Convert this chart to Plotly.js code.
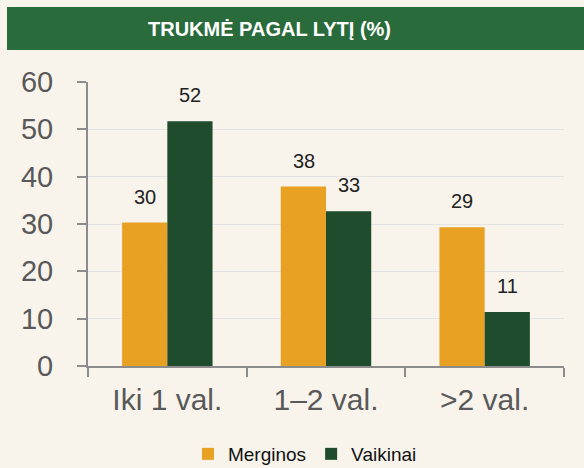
<!DOCTYPE html>
<html><head><meta charset="utf-8">
<script src="https://cdn.plot.ly/plotly-3.0.1.min.js"></script>
<style>html,body{margin:0;padding:0;background:#F8F4EC;}#chart{width:584px;height:468px;}</style>
</head><body><div id="chart"></div>
<script>
const categories = ["Iki 1 val.", "1–2 val.", ">2 val."];
const seriesNames = ["Merginos", "Vaikinai"];
const merginos = [30.3, 37.9, 29.3];
const vaikinai = [51.7, 32.7, 11.4];
const yTicks = [0, 10, 20, 30, 40, 50, 60];
const titleText = "TRUKMĖ PAGAL LYTĮ (%)";

const colors = ["#E8A122", "#1E4C2C"];
const font = "Liberation Sans, Arial, sans-serif";

const traces = [merginos, vaikinai].map((vals, i) => ({
  type: "bar", name: seriesNames[i], x: categories, y: vals,
  marker: {color: colors[i]}, hoverinfo: "none"
}));

const annotations = [];
[merginos, vaikinai].forEach((vals, i) => {
  vals.forEach((v, j) => {
    annotations.push({
      x: categories[j], y: v, xref: "x", yref: "y",
      text: String(Math.round(v)), showarrow: false,
      xshift: i === 0 ? -22.5 : 22.5, yshift: 26,
      font: {family: font, size: 20, color: "#222222"}
    });
  });
});

const layout = {
  width: 584, height: 468,
  paper_bgcolor: "#F8F4EC", plot_bgcolor: "#F8F4EC",
  margin: {l: 88, r: 20, t: 82, b: 102, autoexpand: false},
  barmode: "group", bargap: 0.43, bargroupgap: 0,
  title: {text: "<b>" + titleText + "</b>", x: 269.5/584, xref: "container", y: 1 - 29/468, yref: "container", yanchor: "middle", xanchor: "center",
    font: {family: font, size: 20, color: "#FFFFFF"}},
  shapes: [{type: "rect", xref: "paper", yref: "paper",
    x0: (7-88)/476, x1: (584-88)/476 + 0.05, y0: (366-50)/284, y1: (366-7)/284,
    fillcolor: "#2A6B3C", line: {width: 0}, layer: "below"}],
  xaxis: {
    showline: true, linecolor: "#8C8C8C", linewidth: 2,
    ticks: "outside", tickson: "boundaries", ticklen: 9, tickwidth: 2, tickcolor: "#8C8C8C",
    tickfont: {family: font, size: 30, color: "#595959"}, ticklabelstandoff: 6,
    showgrid: false, fixedrange: true, automargin: false
  },
  yaxis: {
    range: [0, 60], tickvals: yTicks, ticktext: yTicks.map(String),
    showline: true, linecolor: "#8C8C8C", linewidth: 2,
    ticks: "outside", ticklen: 9, tickwidth: 2, tickcolor: "#8C8C8C",
    tickfont: {family: font, size: 29, color: "#595959"}, ticklabelstandoff: 18,
    showgrid: true, gridcolor: "#E4E4E4", gridwidth: 1, zeroline: false, fixedrange: true, automargin: false
  },
  legend: {orientation: "h", x: 0.21, xanchor: "left", y: 1 - 435/468, yref: "container", yanchor: "top",
    font: {family: font, size: 19, color: "#111111"}, bgcolor: "rgba(0,0,0,0)", traceorder: "normal",
    itemwidth: 30, tracegroupgap: 0},
  annotations: annotations,
  showlegend: true
};

Plotly.newPlot("chart", traces, layout, {displayModeBar: false, staticPlot: true});
</script></body></html>
